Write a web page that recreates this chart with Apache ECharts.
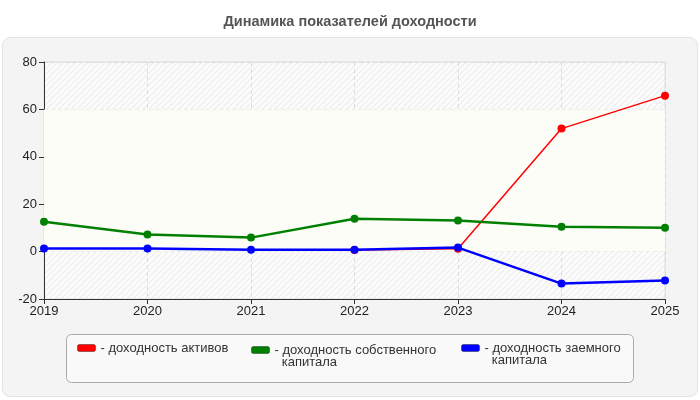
<!DOCTYPE html>
<html>
<head>
<meta charset="utf-8">
<script src="https://cdn.jsdelivr.net/npm/echarts@6/dist/echarts.min.js"></script>
<style>
html,body{margin:0;padding:0;background:#fff;}
#chart{width:700px;height:400px;}
</style>
</head>
<body>
<div id="chart"></div>
<script>
var years = ['2019','2020','2021','2022','2023','2024','2025'];
var roa = [null, null, null, 0.7, 1.2, 51.9, 65.8];
var roe = [12.6, 7.2, 5.9, 13.9, 13.1, 10.5, 10.1];
var rol = [1.3, 1.3, 0.8, 0.8, 1.7, -13.5, -12.2];
var names = ['доходность активов', 'доходность собственного капитала', 'доходность заемного капитала'];
var colors = ['#ff0000', '#008000', '#0000ff'];
var yTicks = {min: -20, max: 80, interval: 20};

function makeHatch() {
  var c = document.createElement('canvas');
  c.width = 6; c.height = 6;
  var g = c.getContext('2d');
  g.fillStyle = '#fbfbfb';
  g.fillRect(0, 0, 6, 6);
  g.strokeStyle = '#e8e8e8';
  g.lineWidth = 1;
  g.beginPath();
  g.moveTo(-1, 7); g.lineTo(7, -1);
  g.moveTo(-1, 1); g.lineTo(1, -1);
  g.moveTo(5, 7); g.lineTo(7, 5);
  g.stroke();
  return c;
}

var chart = echarts.init(document.getElementById('chart'), null, {renderer: 'canvas'});
var font = 'Arial, "Liberation Sans", sans-serif';

function legendFor(i, left, top, label) {
  return {
    data: [names[i]],
    left: left, top: top,
    orient: 'horizontal',
    padding: 0,
    icon: 'roundRect',
    itemWidth: 18, itemHeight: 7,
    itemGap: 4,
    selectedMode: false,
    itemStyle: {borderColor: 'rgba(0,0,0,0.35)', borderWidth: 1},
    formatter: function () { return label; },
    textStyle: {fontFamily: font, fontSize: 13, color: '#333', lineHeight: 12}
  };
}

var option = {
  animation: false,
  backgroundColor: '#ffffff',
  title: {
    text: 'Динамика показателей доходности',
    left: 'center', top: 9,
    textStyle: {fontFamily: font, fontSize: 14.5, fontWeight: 'bold', color: '#555'}
  },
  graphic: [
    {type: 'rect', z: -10, shape: {x: 2.5, y: 37.5, width: 695, height: 359, r: 8},
     style: {fill: '#f4f4f4', stroke: '#e2e2e2', lineWidth: 1}},
    {type: 'rect', z: -5, shape: {x: 66.5, y: 334.5, width: 567, height: 48, r: 5},
     style: {fill: '#f9f9f9', stroke: '#aaaaaa', lineWidth: 1}}
  ],
  legend: [
    legendFor(0, 77, 341.5, '- доходность активов'),
    legendFor(1, 251, 331.5, '\n- доходность собственного\n  капитала'),
    legendFor(2, 461, 329.5, '\n- доходность заемного\n  капитала')
  ],
  grid: {
    left: 44, right: 35, top: 62, bottom: 101,
    show: true,
    backgroundColor: {image: makeHatch(), repeat: 'repeat'},
    borderColor: '#dddddd', borderWidth: 1
  },
  xAxis: {
    type: 'category',
    data: years,
    boundaryGap: false,
    axisLine: {show: true, onZero: false, lineStyle: {color: '#333', width: 1}},
    axisTick: {show: true, length: 5, lineStyle: {color: '#333'}},
    axisLabel: {fontFamily: font, fontSize: 13, color: '#222', margin: 6},
    splitLine: {show: true, lineStyle: {color: '#dcdcdc', type: [4, 3]}}
  },
  yAxis: {
    type: 'value',
    min: yTicks.min, max: yTicks.max, interval: yTicks.interval,
    axisLine: {show: true, lineStyle: {color: '#333', width: 1}},
    axisTick: {show: true, length: 5, lineStyle: {color: '#333'}},
    axisLabel: {fontFamily: font, fontSize: 13, color: '#222', margin: 7},
    splitLine: {show: true, lineStyle: {color: '#dcdcdc', type: [4, 3]}}
  },
  series: [
    {
      name: names[0], type: 'line', data: roa,
      color: colors[0],
      symbol: 'circle', symbolSize: 8,
      lineStyle: {width: 1.5, color: colors[0]},
      itemStyle: {color: colors[0]},
      markArea: {
        silent: true,
        itemStyle: {color: '#fcfdf7'},
        data: [[{yAxis: 0}, {yAxis: 60}]]
      },
      z: 2
    },
    {
      name: names[1], type: 'line', data: roe,
      color: colors[1],
      symbol: 'circle', symbolSize: 8,
      lineStyle: {width: 2.5, color: colors[1]},
      itemStyle: {color: colors[1]},
      z: 3
    },
    {
      name: names[2], type: 'line', data: rol,
      color: colors[2],
      symbol: 'circle', symbolSize: 8,
      lineStyle: {width: 2.5, color: colors[2]},
      itemStyle: {color: colors[2]},
      z: 4
    }
  ]
};
chart.setOption(option);
</script>
</body>
</html>
